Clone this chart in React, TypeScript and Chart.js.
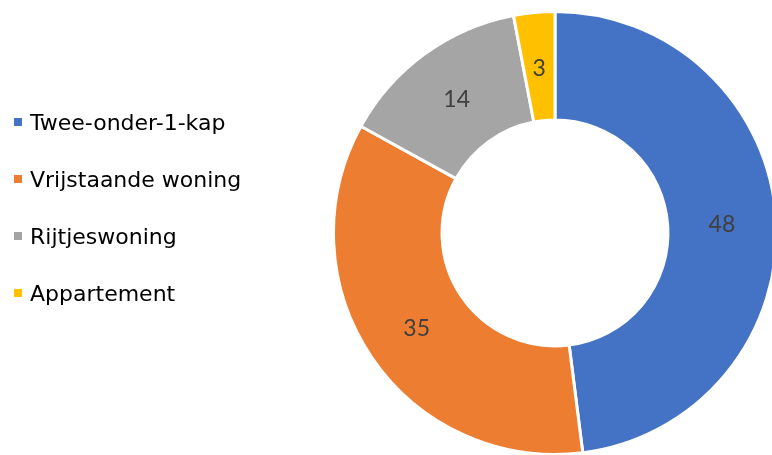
import React, { useEffect, useRef } from "react";
import { Chart, registerables } from "chart.js";

Chart.register(...registerables);

const categories = ["Twee-onder-1-kap", "Vrijstaande woning", "Rijtjeswoning", "Appartement"];
const values = [48, 35, 14, 3];
const colors = ["#4472C4", "#ED7D31", "#A5A5A5", "#FFC000"];

const labelPlugin = {
  id: "sliceLabels",
  afterDatasetsDraw(chart: any) {
    const ctx = chart.ctx;
    const meta = chart.getDatasetMeta(0);
    ctx.save();
    ctx.font = "23px Lato, 'Open Sans', sans-serif";
    ctx.fillStyle = "#404040";
    ctx.textAlign = "center";
    ctx.textBaseline = "middle";
    meta.data.forEach((arc: any, i: number) => {
      const p = arc.tooltipPosition();
      ctx.fillText(String(values[i]), p.x, p.y + 2);
    });
    ctx.restore();
  },
};

export default function App() {
  const ref = useRef<HTMLCanvasElement | null>(null);
  useEffect(() => {
    const prevMargin = document.body.style.margin;
    document.body.style.margin = "0";
    const chart = new Chart(ref.current as HTMLCanvasElement, {
      type: "doughnut",
      data: {
        labels: categories,
        datasets: [
          {
            data: values,
            backgroundColor: colors,
            borderColor: "#FFFFFF",
            borderWidth: 3,
          },
        ],
      },
      options: {
        animation: false,
        responsive: false,
        cutout: "51%",
        layout: { padding: { left: 332, top: 10, bottom: 4, right: 12 } },
        plugins: {
          legend: { display: false },
          tooltip: { enabled: false },
        },
      },
      plugins: [labelPlugin],
    });
    return () => {
      chart.destroy();
      document.body.style.margin = prevMargin;
    };
  }, []);

  return (
    <div style={{ position: "fixed", left: 0, top: 0, width: 772, height: 455, background: "#fff", overflow: "hidden" }}>
      <canvas ref={ref} width={790} height={460} style={{ position: "absolute", left: 0, top: 0 }} />
      {categories.map((c, i) => (
        <div
          key={c}
          style={{
            position: "absolute",
            left: 14,
            top: 107 + i * 57,
            height: 30,
            display: "flex",
            alignItems: "center",
            fontFamily: "'DejaVu Sans', Verdana, sans-serif",
            fontSize: 22,
            color: "#000",
            whiteSpace: "nowrap",
          }}
        >
          <span style={{ display: "inline-block", width: 8, height: 8, background: colors[i], marginRight: 8 }} />
          <span>{c}</span>
        </div>
      ))}
    </div>
  );
}
